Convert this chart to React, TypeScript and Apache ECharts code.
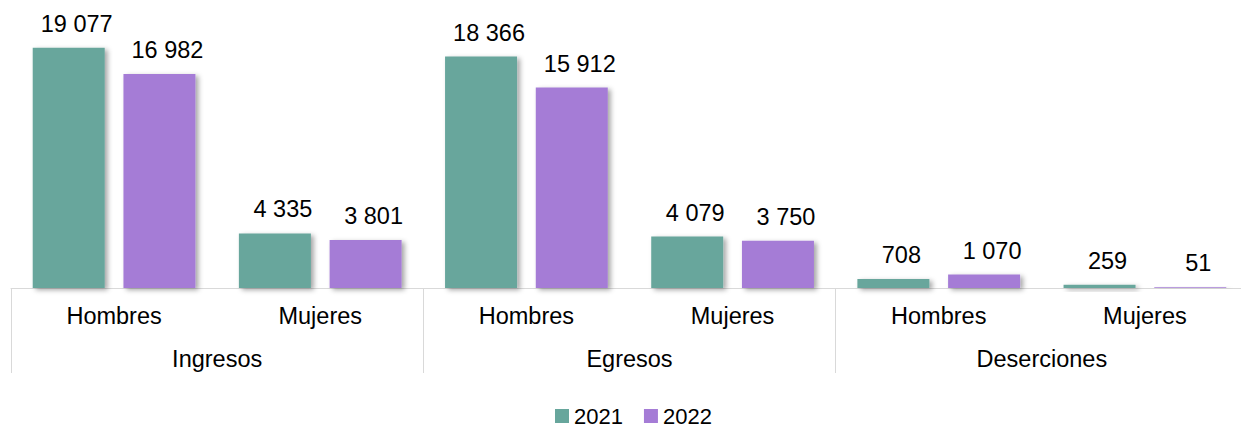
import React, { useEffect, useRef } from "react";
import * as echarts from "echarts";

const subCategories = ["Hombres", "Mujeres", "Hombres", "Mujeres", "Hombres", "Mujeres"];
const groups = ["Ingresos", "Egresos", "Deserciones"];
const seriesNames = ["2021", "2022"];
const values2021 = [19077, 4335, 18366, 4079, 708, 259];
const values2022 = [16982, 3801, 15912, 3750, 1070, 51];
const colors = ["#67A69C", "#A57CD6"];

const fmt = (v: number) => String(v).replace(/\B(?=(\d{3})+(?!\d))/g, " ");

export default function App() {
  const ref = useRef<HTMLDivElement>(null);
  useEffect(() => {
    if (!ref.current) return;
    const chart = echarts.init(ref.current, undefined, { renderer: "svg" });
    const font = "'Liberation Sans', Arial, sans-serif";
    const mkSeries = (name: string, data: number[], color: string) => ({
      name,
      type: "bar",
      data,
      barWidth: 72,
      barGap: "26%",
      itemStyle: {
        color,
        shadowColor: "rgba(0,0,0,0.35)",
        shadowBlur: 5,
        shadowOffsetX: 3,
        shadowOffsetY: 2,
      },
      label: {
        show: true,
        position: "top",
        distance: 12,
        offset: [8, 0],
        color: "#000",
        fontSize: 23.5,
        fontFamily: font,
        formatter: (p: any) => fmt(p.value),
      },
    });
    chart.setOption({
      animation: false,
      textStyle: { fontFamily: font },
      grid: { left: 11, top: 36, right: -7, height: 252, outerBoundsMode: "none", containLabel: false },
      legend: {
        data: seriesNames,
        top: 405,
        left: 555,
        padding: 0,
        itemWidth: 14,
        itemHeight: 14,
        itemGap: 21,
        icon: "rect",
        textStyle: { fontSize: 22, lineHeight: 21, color: "#000", fontFamily: font },
      },
      xAxis: [
        {
          type: "category",
          data: subCategories,
          axisLine: { show: true, lineStyle: { color: "#d9d9d9", width: 1 } },
          axisTick: { show: false },
          axisLabel: { color: "#000", fontSize: 23.5, margin: 16, fontFamily: font, interval: 0 },
        },
        {
          type: "category",
          data: groups,
          position: "bottom",
          axisLine: { show: false },
          axisTick: {
            show: true,
            length: 85,
            interval: 0,
            lineStyle: { color: "#d9d9d9", width: 1 },
          },
          axisLabel: { color: "#000", fontSize: 23.5, margin: 59, fontFamily: font, interval: 0 },
        },
      ],
      yAxis: { type: "value", min: 0, max: 20000, show: false, splitLine: { show: false } },
      series: [
        mkSeries(seriesNames[0], values2021, colors[0]),
        mkSeries(seriesNames[1], values2022, colors[1]),
      ],
    });
    return () => chart.dispose();
  }, []);
  return (
    <div
      ref={ref}
      style={{ position: "fixed", left: 0, top: 0, width: 1241, height: 427, background: "#fff" }}
    />
  );
}
